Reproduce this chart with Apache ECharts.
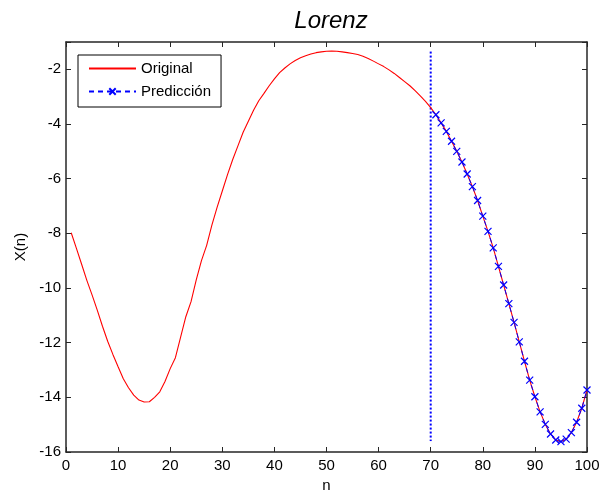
<!DOCTYPE html>
<html>
<head>
<meta charset="utf-8">
<script src="https://cdn.jsdelivr.net/npm/echarts@6/dist/echarts.min.js"></script>
<style>html,body{margin:0;padding:0;background:#fff;}#c{width:603px;height:495px;}</style>
</head>
<body>
<div id="c"></div>
<script>
// Original series, n = 1..100
const nOriginal = [];
for (let i = 1; i <= 100; i++) nOriginal.push(i);
const original = [
 -7.98,-8.55,-9.13,-9.72,-10.25,-10.81,-11.40,-11.95,-12.43,-12.88,
 -13.32,-13.65,-13.92,-14.10,-14.17,-14.16,-14.00,-13.80,-13.42,-12.95,
 -12.55,-11.80,-11.05,-10.50,-9.70,-9.00,-8.44,-7.70,-7.05,-6.45,
 -5.85,-5.30,-4.80,-4.30,-3.90,-3.50,-3.15,-2.88,-2.60,-2.35,
 -2.12,-1.95,-1.80,-1.68,-1.58,-1.50,-1.44,-1.39,-1.36,-1.34,
 -1.33,-1.34,-1.36,-1.39,-1.42,-1.46,-1.52,-1.60,-1.70,-1.80,
 -1.90,-2.02,-2.15,-2.30,-2.45,-2.60,-2.78,-2.97,-3.17,-3.40,
 -3.66,-3.96,-4.27,-4.63,-5.00,-5.39,-5.83,-6.29,-6.80,-7.37,
 -7.93,-8.53,-9.21,-9.89,-10.57,-11.26,-11.97,-12.68,-13.37,-13.98,
 -14.53,-14.99,-15.34,-15.56,-15.62,-15.53,-15.29,-14.91,-14.40,-13.73
];
// Prediction, n = 71..100
const nPrediction = [];
for (let i = 71; i <= 100; i++) nPrediction.push(i);
const prediction = [
 -3.66,-3.96,-4.27,-4.63,-5.00,-5.39,-5.83,-6.29,-6.80,-7.37,
 -7.93,-8.53,-9.21,-9.89,-10.57,-11.26,-11.97,-12.68,-13.37,-13.98,
 -14.53,-14.99,-15.34,-15.56,-15.62,-15.53,-15.29,-14.91,-14.40,-13.73
];
// Vertical split marker at n = 70
const splitX = [70, 70];
const splitY = [-1.35, -15.6];
const xTicks = [0,10,20,30,40,50,60,70,80,90,100];
const yTicks = [-16,-14,-12,-10,-8,-6,-4,-2];

const FONT = 'Liberation Sans, Arial, sans-serif';
const frameColor = '#262626';
const chart = echarts.init(document.getElementById('c'), null, {renderer:'canvas'});
const pairs = (xs, ys) => xs.map((x, i) => [x, ys[i]]);
const axisCommon = {
  axisLine:{show:true, onZero:false, lineStyle:{color:frameColor, width:1.5}},
  axisTick:{show:true, inside:true, length:5, lineStyle:{color:frameColor, width:1}},
  splitLine:{show:false}
};
chart.setOption({
  animation:false,
  backgroundColor:'#fff',
  title:{text:'Lorenz', left:326, textAlign:'center', top:4,
    textStyle:{fontFamily:FONT, fontStyle:'italic', fontWeight:'normal', fontSize:24, color:'#000'}},
  grid:{left:66, right:16, top:42, bottom:43, containLabel:false, outerBoundsMode:'none'},
  legend:{
    data:[{name:'Original', itemStyle:{opacity:0}}, {name:'Predicción'}],
    orient:'vertical', left:78, top:55,
    padding:[6,10,8,10], itemGap:8, itemWidth:47, itemHeight:8,
    borderColor:'#000', borderWidth:1, backgroundColor:'#fff', borderRadius:0,
    textStyle:{fontFamily:FONT, fontSize:15, color:'#000'}
  },
  xAxis:[
    Object.assign({type:'value', min:0, max:100, interval:10, position:'bottom',
      name:'n', nameLocation:'middle', nameGap:25,
      nameTextStyle:{fontFamily:FONT, fontSize:15, color:'#000'},
      axisLabel:{fontFamily:FONT, fontSize:15, color:'#000', margin:6}}, axisCommon),
    Object.assign({type:'value', min:0, max:100, interval:10, position:'top',
      axisLabel:{show:false}}, axisCommon)
  ],
  yAxis:[
    Object.assign({type:'value', min:-16, max:-1, interval:2, position:'left',
      name:'X(n)', nameLocation:'middle', nameGap:37, nameRotate:90,
      nameTextStyle:{fontFamily:FONT, fontSize:15, color:'#000'},
      axisLabel:{fontFamily:FONT, fontSize:15, color:'#000', margin:5,
        formatter:v => yTicks.indexOf(v) >= 0 ? String(v) : ''}}, axisCommon),
    Object.assign({type:'value', min:-16, max:-1, interval:2, position:'right',
      axisLabel:{show:false}}, axisCommon)
  ],
  series:[
    {name:'Original', type:'line', data:pairs(nOriginal, original), showSymbol:false, symbol:'none',
      lineStyle:{color:'#ff0000', width:1.1}, itemStyle:{color:'#ff0000'}, z:2},
    {name:'Predicción', type:'line', data:pairs(nPrediction, prediction),
      symbol:'path://M0,0L10,10M10,0L0,10', symbolSize:7, showSymbol:true,
      lineStyle:{color:'#0000ff', width:1, type:[5,4]},
      itemStyle:{color:'rgba(0,0,0,0)', borderColor:'#0000ff', borderWidth:1.2}, z:3},
    {name:'split', type:'line', data:pairs(splitX, splitY), symbol:'none',
      lineStyle:{color:'#0000ff', width:2, type:[2,2]}, z:1, silent:true}
  ]
});
</script>
</body>
</html>
